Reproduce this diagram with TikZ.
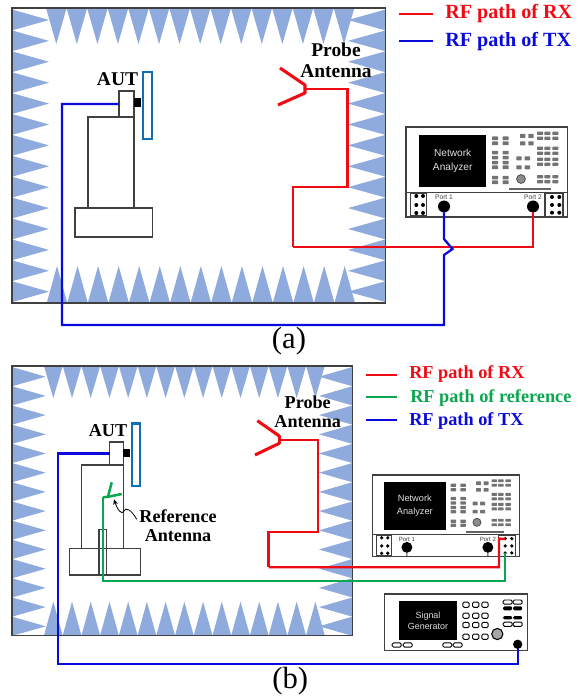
\documentclass[tikz,border=0pt]{standalone}
\usepackage{fontspec}
\setmainfont{Liberation Serif}
\newfontfamily\panelfont{Liberation Sans}
\usetikzlibrary{arrows.meta}
\definecolor{absorberblue}{HTML}{8FAADC}
\definecolor{rfred}{HTML}{F00A14}
\definecolor{rfblue}{HTML}{0A0ADC}
\definecolor{rfgreen}{HTML}{0BA650}
\definecolor{autblue}{HTML}{0F6EB4}
\definecolor{edgegray}{HTML}{404040}
\tikzset{
    absorber/.style={fill=absorberblue},
    wall/.style={draw=edgegray, line width=1.2pt},
    rack/.style={draw=edgegray, line width=0.85pt, fill=white, inner sep=0pt, outer sep=0pt},
    feedblock/.style={fill=black, inner sep=0pt, outer sep=0pt},
    aperture/.style={draw=autblue, line width=1.9pt, fill=white, inner sep=0pt, outer sep=0pt},
    rfrx/.style={draw=rfred, line width=1.7pt},
    rftx/.style={draw=rfblue, line width=1.7pt},
    rfref/.style={draw=rfgreen, line width=1.7pt},
    armrx/.style={draw=rfred, line width=2.3pt, line join=round},
    armref/.style={draw=rfgreen, line width=1.9pt, line join=round},
    biglabel/.style={font=\fontsize{14.6}{15.75}\selectfont\bfseries, align=center, inner sep=0pt},
    smalllabel/.style={font=\fontsize{13.6}{14.25}\selectfont\bfseries, align=center, inner sep=0pt},
    legendbig/.style={font=\fontsize{15.1}{17}\selectfont\bfseries, anchor=west, inner sep=0pt},
    legendsmall/.style={font=\fontsize{13.7}{16}\selectfont\bfseries, anchor=west, inner sep=0pt},
    caption/.style={font=\fontsize{23}{24}\selectfont, inner sep=0pt},
    screen/.style={fill=black, text=white!88!black, align=center, inner sep=0pt, font=\fontsize{7.6}{10.7}\panelfont},
    portlabel/.style={font=\fontsize{5}{6}\panelfont, text=black!75, inner sep=0pt, transform shape},
    knob/.style={circle, fill=black, minimum size=9pt, inner sep=0pt, outer sep=0pt, transform shape},
    holedot/.style={circle, fill=black, minimum size=3pt, inner sep=0pt, transform shape},
    keygray/.style={fill=black!55, rounded corners=0.4pt},
    pill/.style={draw=black, line width=0.7pt, fill=white, rounded corners=1pt},
    pillfull/.style={fill=black, rounded corners=1pt},
    pics/analyzer/.style={code={
        \draw[rack] (0,0) rectangle (161.7,90);
        \draw[edgegray, line width=0.6pt] (0,65) -- (161.7,65);
        \node[screen, transform shape, minimum width=50.6pt, minimum height=39.6pt] (-screen) at (46.7,34) {Network\\Analyzer};
        \foreach \kx in {89,99.7} {
            \foreach \ky in {11.3,16.3,25.7,30.7,35.7,40.3,50.7,55.3}
                \fill[keygray] (\kx-3,\ky-1.8) rectangle +(6,3.6);
        }
        \foreach \kx in {116.7,125} {
            \foreach \ky in {9,16.3}
                \fill[keygray] (\kx-2.7,\ky-2) rectangle +(5.4,4);
        }
        \foreach \kx in {113,121.3} {
            \foreach \ky in {31.3,40.3}
                \fill[keygray] (\kx-2.7,\ky-2) rectangle +(5.4,4);
        }
        \foreach \kx in {134,141.3,149.3} {
            \foreach \ky in {6.3,11.3,21.3,26.3,32.3,37.3,49.7,54.7}
                \fill[keygray] (\kx-3,\ky-1.6) rectangle +(6,3.2);
        }
        \draw[draw=black!70, fill=black!45, line width=0.6pt] (115,52) circle (4.4);
        \draw[black!60, line width=1.4pt] (103,62.3) -- (144.7,62.3);
        \draw[rack] (4.7,66) rectangle (20.7,89);
        \draw[rack] (139,66) rectangle (157,90);
        \foreach \kx in {10.3,17} {
            \foreach \ky in {69,78,86}
                \node[holedot] at (\kx,\ky) {};
        }
        \foreach \rownum/\ky in {1/70,2/78,3/85.7} {
            \foreach \colnum/\kx in {1/146,2/153.3}
                \node[holedot] (-r\rownum-\colnum) at (\kx,\ky) {};
        }
        \node[knob] (-port1) at (38,79.5) {};
        \node[knob] (-port2) at (127,79.5) {};
        \draw[edgegray, line width=0.6pt] (-port1.south) -- (38,90);
        \draw[edgegray, line width=0.6pt] (-port2.south) -- (127,90);
        \node[portlabel] (-name1) at (38,70.5) {Port 1};
        \node[portlabel] (-name2) at (127,70.5) {Port 2};
    }}
}
\begin{document}
\begin{tikzpicture}[x=0.75pt, y=-0.75pt]
    \useasboundingbox (0,0) rectangle (578,698);

    % chamber (a)
    \foreach \i in {0,...,14} {
        \fill[absorber] ({46+20.55*\i},8) -- ({56.3+20.55*\i},44) -- ({66.6+20.55*\i},8) -- cycle;
        \fill[absorber] ({46.7+20.55*\i},303) -- ({57+20.55*\i},266) -- ({67.3+20.55*\i},303) -- cycle;
    }
    \foreach \i in {0,...,13} {
        \fill[absorber] (12,{9.5+20.9*\i}) -- (49,{20+20.9*\i}) -- (12,{30.4+20.9*\i}) -- cycle;
        \fill[absorber] (385.5,{9.5+20.9*\i}) -- (348,{20+20.9*\i}) -- (385.5,{30.4+20.9*\i}) -- cycle;
    }
    \draw[wall] (12,8) rectangle (385.5,303);

    \node[rack, minimum width=34.5pt, minimum height=68.25pt] (towerA) at (111,162.5) {};
    \node[rack, minimum width=58pt, minimum height=21.75pt] (baseA) at (113.7,222.5) {};
    \node[rack, minimum width=11.25pt, minimum height=19.5pt] (mountA) at (126.5,104) {};
    \node[feedblock, minimum width=5.25pt, minimum height=6.75pt] (blockA) at (137.7,102.5) {};
    \node[aperture, minimum width=7pt, minimum height=50pt] (arrayA) at (147.5,105.5) {};
    \node[biglabel] (autA) at (117.5,79) {AUT};

    \coordinate (feedA) at (305,89);
    \coordinate (rxA1) at (347.5,187);
    \coordinate (rxA2) at (293,246.7);
    \coordinate (cornerA) at (62,325);
    \coordinate (bumpA) at (444,255);
    \draw[armrx] (feedA) ++(-25,-21) -- ++(25,17) -- ++(0,8) -- ++(-27,12);
    \draw[rfrx] (feedA) -| (rxA1) -| (rxA2);
    \node[biglabel] (probeA) at (336,60.5) {Probe\\Antenna};

    \pic (pnaA) at (406,127) {analyzer};
    \draw[rfrx] (rxA2) -| (pnaA-port2.south);
    \draw[rftx] (mountA.west) -| (cornerA) -| (bumpA) -- ++(8.5,-6) -- ++(-8.5,-10) -- (pnaA-port1.south);
    \node[caption] (capA) at (289,341.5) {(a)};

    \coordinate (keyA1) at (399,14);
    \coordinate (keyA2) at (399,40.7);
    \draw[rfrx] (keyA1) -- ++(34,0);
    \draw[rftx] (keyA2) -- ++(34,0);
    \node[legendbig, text=rfred] (legA1) at (445,13.5) {RF path of RX};
    \node[legendbig, text=rfblue] (legA2) at (445,42) {RF path of TX};

    % chamber (b)
    \foreach \i in {0,...,14} {
        \fill[absorber] ({44+18.72*\i},366) -- ({53.3+18.72*\i},398) -- ({62.7+18.72*\i},366) -- cycle;
        \fill[absorber] ({44+18.72*\i},635.5) -- ({53.3+18.72*\i},601.7) -- ({62.7+18.72*\i},635.5) -- cycle;
    }
    \foreach \i in {0,...,13} {
        \fill[absorber] (12,{367+19.2*\i}) -- (45.7,{376.7+19.2*\i}) -- (12,{386.3+19.2*\i}) -- cycle;
        \fill[absorber] (352.5,{367+19.2*\i}) -- (319,{376.7+19.2*\i}) -- (352.5,{386.3+19.2*\i}) -- cycle;
    }
    \draw[wall] (12,366) rectangle (352.5,635.5);

    \node[rack, minimum width=31.2pt, minimum height=62.5pt] (towerB) at (102.5,506.6) {};
    \node[rack, minimum width=53.25pt, minimum height=20pt] (baseB) at (104.8,561.6) {};
    \node[rack, fill=none, minimum width=5.5pt, minimum height=34.3pt] (slotB) at (102.7,552.2) {};
    \node[rack, minimum width=10.2pt, minimum height=17.25pt] (mountB) at (116.5,453.5) {};
    \node[feedblock, minimum width=5pt, minimum height=6.5pt] (blockB) at (126.7,453) {};
    \node[aperture, minimum width=6pt, minimum height=47pt] (arrayB) at (136,454.8) {};
    \node[smalllabel] (autB) at (108,430.7) {AUT};

    \coordinate (feedB) at (279.3,440);
    \coordinate (rxB1) at (318.3,532);
    \coordinate (rxB2) at (268.5,567.3);
    \coordinate (rxB3) at (499,538.6);
    \coordinate (feedRef) at (103,497.3);
    \coordinate (refB) at (103,580.7);
    \coordinate (cornerB) at (58.3,663.7);
    \draw[armrx] (feedB) ++(-22,-19.3) -- ++(22,15.3) -- ++(0,7.3) -- ++(-24.3,11.7);
    \draw[rfrx] (feedB) -| (rxB1) -| (rxB2);
    \node[smalllabel] (probeB) at (307.7,411.5) {Probe\\Antenna};

    \draw[armref] (feedRef) -- ++(5,-0.5) -- ++(3.7,-14.5);
    \draw[armref] (feedRef) ++(5,-0.5) -- ++(13.7,-2.8);
    \node[smalllabel] (refLabel) at (178,525.5) {Reference\\Antenna};
    \coordinate (refTail) at (136.7,519.3);
    \coordinate (refTip) at (114,499.3);
    \draw[-{Stealth[length=4pt,width=3.5pt]}, line width=0.6pt] (refTail) .. controls (131,509) and (125,507) .. (124,511) .. controls (122,516) and (117,509) .. (refTip);

    \pic[scale=0.91] (pnaB) at (372.3,475) {analyzer};
    \draw[rfrx] (rxB2) -| (rxB3) -- (pnaB-r1-1.center);
    \draw[rfref] (feedRef) -- (refB) -| (pnaB-r3-1.center);

    % signal generator
    \draw[rack, line width=1pt] (384.3,594) rectangle (527.7,650.7);
    \node[screen, font=\fontsize{6.7}{8.8}\panelfont, minimum width=43pt, minimum height=29pt] (genScreen) at (428,620.7) {Signal\\Generator};
    \foreach \kx in {466,475.7,485} {
        \foreach \ky in {604.7,615.7,625,636.7}
            \draw[pill] (\kx-3.2,\ky-2.6) rectangle +(6.4,5.2);
    }
    \foreach \kx in {507.7,517.7} {
        \draw[pill] (\kx-4.5,600) rectangle +(9,4.2);
        \fill[pillfull] (\kx-4.5,606.3) rectangle +(9,4);
        \fill[pillfull] (\kx-4.5,616) rectangle +(9,3.4);
        \draw[pill] (\kx-4.5,622.2) rectangle +(9,4.2);
    }
    \foreach \kx in {396.7,407.7,447.3,457.7}
        \draw[pill] (\kx-4.5,642.9) rectangle +(9,4.2);
    \draw[black, line width=0.8pt, fill=black!35] (497.3,634) circle (5.6);
    \node[knob, minimum size=7pt] (genPort) at (517.7,644.3) {};
    \draw[rftx] (mountB.west) -| (cornerB) -| (genPort.south);
    \node[caption] (capB) at (290.3,681) {(b)};

    \coordinate (keyB1) at (366,374.7);
    \coordinate (keyB2) at (366,397);
    \coordinate (keyB3) at (366,420);
    \draw[rfrx] (keyB1) -- ++(31,0);
    \draw[rfref] (keyB2) -- ++(31,0);
    \draw[rftx] (keyB3) -- ++(31,0);
    \node[legendsmall, text=rfred] (legB1) at (409,374) {RF path of RX};
    \node[legendsmall, text=rfgreen] (legB2) at (410,398) {RF path of reference};
    \node[legendsmall, text=rfblue] (legB3) at (409,421) {RF path of TX};
\end{tikzpicture}
\end{document}
